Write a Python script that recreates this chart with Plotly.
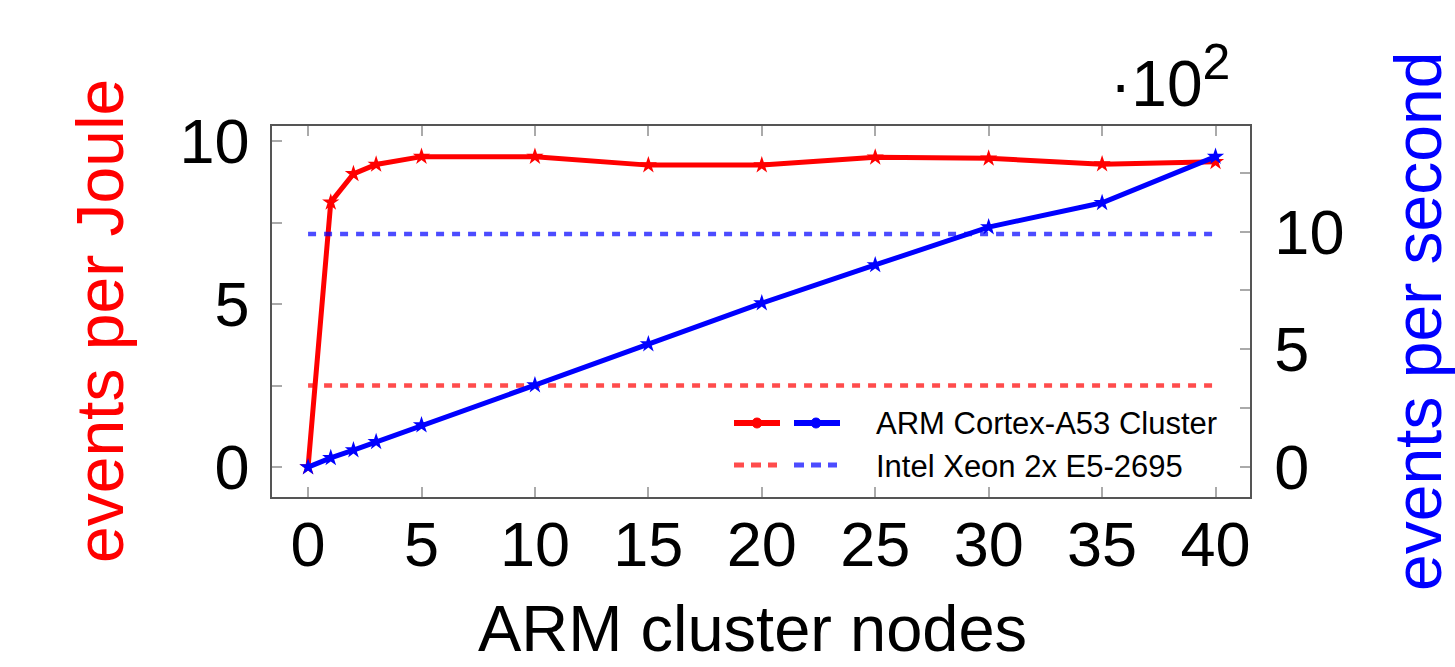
import plotly.graph_objects as go

# ---- data ----
nodes = [0, 1, 2, 3, 5, 10, 15, 20, 25, 30, 35, 40]
events_per_joule = [0, 8.12, 8.99, 9.28, 9.52, 9.52, 9.26, 9.26, 9.50, 9.47, 9.29, 9.36]
events_per_second_e2 = [0, 0.39, 0.72, 1.07, 1.78, 3.48, 5.22, 6.96, 8.58, 10.19, 11.22, 13.18]
xeon_x = [0, 40]
xeon_per_joule = [2.5, 2.5]
xeon_per_second_e2 = [9.9, 9.9]

x_ticks = [0, 5, 10, 15, 20, 25, 30, 35, 40]
y1_ticks = [0, 2.5, 5, 7.5, 10]
y1_labels = ["0", "", "5", "", "10"]
y2_ticks = [0, 2.5, 5, 7.5, 10, 12.5]
y2_labels = ["0", "", "5", "", "10", ""]

FONT = "Liberation Sans, Arial, Helvetica, sans-serif"
W, H = 1455, 667
L, R, T, B = 272, 1250, 126, 497

def px(x):
    return (x - L) / (R - L)

def py(y):
    return (B - y) / (B - T)

fig = go.Figure()

fig.add_trace(go.Scatter(x=xeon_x, y=xeon_per_joule, mode="lines",
                         line=dict(color="rgba(255,0,0,0.7)", width=4.5, dash="8px,8px"),
                         showlegend=False, yaxis="y"))
fig.add_trace(go.Scatter(x=xeon_x, y=xeon_per_second_e2, mode="lines",
                         line=dict(color="rgba(0,0,255,0.7)", width=4.5, dash="8px,8px"),
                         showlegend=False, yaxis="y2"))
fig.add_trace(go.Scatter(x=nodes, y=events_per_joule, mode="lines+markers",
                         line=dict(color="#ff0000", width=5),
                         marker=dict(symbol="star", size=13, color="#ff0000"),
                         showlegend=False, yaxis="y"))
fig.add_trace(go.Scatter(x=nodes, y=events_per_second_e2, mode="lines+markers",
                         line=dict(color="#0000ff", width=5),
                         marker=dict(symbol="star", size=13, color="#0000ff"),
                         showlegend=False, yaxis="y2"))

tickfont = dict(family=FONT, size=63, color="black")

fig.update_layout(
    width=W, height=H,
    margin=dict(l=L, r=W - R, t=T, b=H - B),
    paper_bgcolor="white", plot_bgcolor="white",
    showlegend=False,
    xaxis=dict(range=[-1.59, 41.52], tickvals=x_ticks, ticks="inside", ticklen=10,
               tickwidth=1.5, tickcolor="#aaaaaa", showline=True, linecolor="#555555",
               linewidth=1.5, mirror="ticks", showgrid=False, zeroline=False,
               tickfont=tickfont, ticklabelstandoff=-8),
    yaxis=dict(range=[-0.92, 10.46], tickvals=y1_ticks, ticktext=y1_labels,
               ticks="inside", ticklen=10, tickwidth=1.5, tickcolor="#aaaaaa",
               showline=True, linecolor="#555555", linewidth=1.5, showgrid=False,
               zeroline=False, tickfont=tickfont, ticklabelstandoff=8),
    yaxis2=dict(range=[-1.27, 14.48], tickvals=y2_ticks, ticktext=y2_labels,
                overlaying="y", side="right", ticks="inside", ticklen=10,
                tickwidth=1.5, tickcolor="#aaaaaa", showline=True,
                linecolor="#555555", linewidth=1.5, showgrid=False, zeroline=False,
                tickfont=tickfont, ticklabelstandoff=10),
)

# axis titles
fig.add_annotation(x=px(100), y=py(321), xref="paper", yref="paper",
                   text="events per Joule", textangle=-90, showarrow=False,
                   font=dict(family=FONT, size=66, color="#ff0000"),
                   xanchor="center", yanchor="middle")
fig.add_annotation(x=px(1418), y=py(322), xref="paper", yref="paper",
                   text="events per second", textangle=-90, showarrow=False,
                   font=dict(family=FONT, size=66, color="#0000ff"),
                   xanchor="center", yanchor="middle")
fig.add_annotation(x=px(752), y=py(628), xref="paper", yref="paper",
                   text="ARM cluster nodes", showarrow=False,
                   font=dict(family=FONT, size=65, color="black"),
                   xanchor="center", yanchor="middle")
fig.add_annotation(x=px(1108), y=py(122), xref="paper", yref="paper",
                   text="·10<sup><span style='font-size:50px'>2</span></sup>",
                   showarrow=False,
                   font=dict(family=FONT, size=64, color="black"),
                   xanchor="left", yanchor="bottom")

# legend (drawn manually)
shapes = []
def seg(x0, x1, y, color, dash="solid", width=6):
    shapes.append(dict(type="line", xref="paper", yref="paper",
                       x0=px(x0), x1=px(x1), y0=py(y), y1=py(y),
                       line=dict(color=color, width=width, dash=dash)))
seg(734, 780, 423, "#ff0000")
seg(794, 840, 423, "#0000ff")
seg(734, 777, 465, "rgba(255,0,0,0.7)", "10px,7px", 5)
seg(794, 837, 465, "rgba(0,0,255,0.7)", "10px,7px", 5)
for cx, col in [(757, "#ff0000"), (816, "#0000ff")]:
    shapes.append(dict(type="circle", xref="paper", yref="paper",
                       x0=px(cx - 5), x1=px(cx + 5), y0=py(423 - 5), y1=py(423 + 5),
                       fillcolor=col, line=dict(color=col, width=1)))
fig.update_layout(shapes=shapes)

fig.add_annotation(x=px(874), y=py(423), xref="paper", yref="paper",
                   text="ARM Cortex-A53 Cluster", showarrow=False,
                   font=dict(family=FONT, size=31, color="black"),
                   xanchor="left", yanchor="middle")
fig.add_annotation(x=px(874), y=py(466), xref="paper", yref="paper",
                   text="Intel Xeon 2x E5-2695", showarrow=False,
                   font=dict(family=FONT, size=31, color="black"),
                   xanchor="left", yanchor="middle")

fig.write_html("out.html")
